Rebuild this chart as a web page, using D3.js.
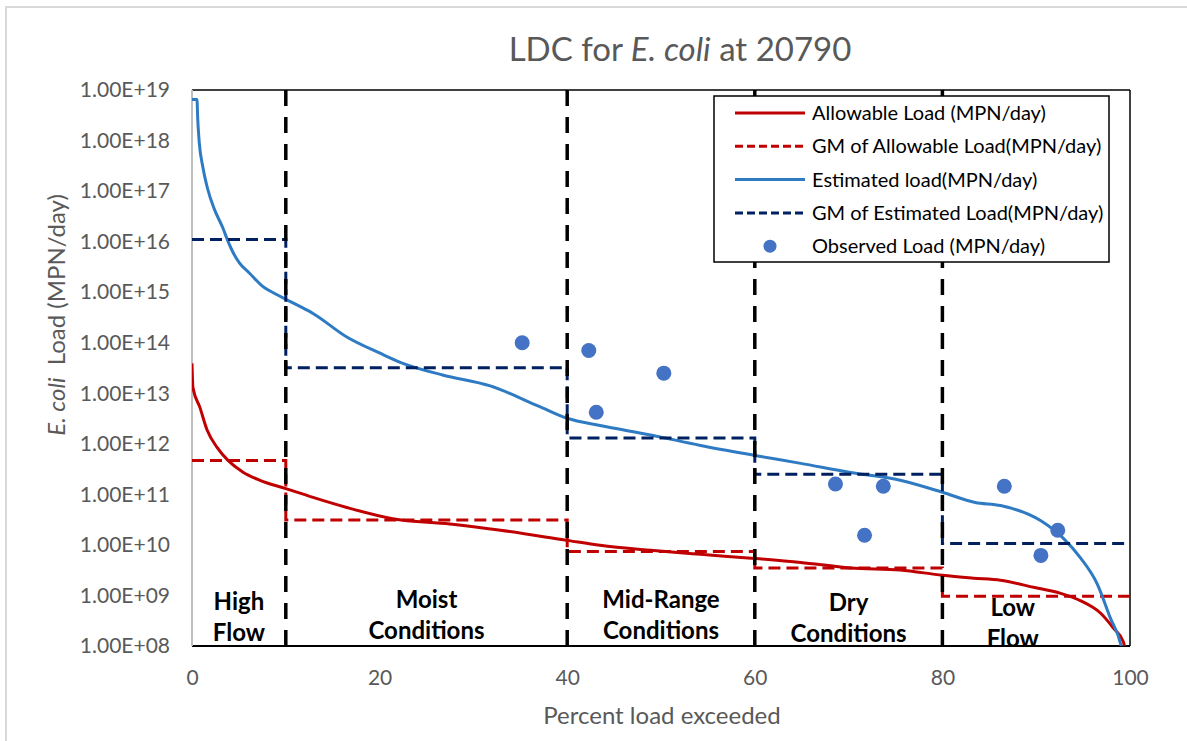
<!DOCTYPE html>
<html>
<head>
<meta charset="utf-8">
<script src="https://cdn.jsdelivr.net/npm/d3@7"></script>
<style>
  body { margin: 0; background: #fff; }
  svg { display: block; font-family: Lato, "Open Sans", sans-serif; }
</style>
</head>
<body>
<div id="chart"></div>
<script>
// 資料：流量百分位 (percent load exceeded) 與負荷值
const estPct  = [0, 0.53, 0.61, 0.78, 1.14, 1.67, 2.38, 3.27, 3.81, 4.34, 5.05, 6.11, 7.54, 8.96, 10.03, 11.45, 12.9, 16.5, 20.05, 22.2, 26.7, 31.8, 37, 40, 43.5, 48.9, 54.2, 60, 64.9, 70.2, 75.5, 80, 83.5, 86.2, 90.5, 92.9, 94.7, 96.5, 97.9, 99.0, 99.3];
const estLoad = [6.5e18, 6.5e18, 2.7e18, 8.9e17, 3.1e17, 1.1e17, 4.4e16, 1.9e16, 1.05e16, 6.3e15, 3.8e15, 2.4e15, 1.3e15, 9.1e14, 7.2e14, 5.3e14, 3.8e14, 1.3e14, 6.2e13, 4.1e13, 2.3e13, 1.4e13, 5.5e12, 3.2e12, 2.3e12, 1.5e12, 9.3e11, 5.9e11, 4.1e11, 2.7e11, 1.9e11, 1.1e11, 6.9e10, 6.0e10, 3.0e10, 1.35e10, 5.6e9, 1.7e9, 3.6e8, 1.1e8, 6e7];

const allowPct  = [0, 0.1, 0.85, 1.6, 2.67, 3.84, 5.44, 7.25, 10, 12.9, 16.5, 21.4, 27.5, 32.9, 40, 43.5, 48.9, 54.2, 60, 64.9, 70.2, 75.5, 80, 83.3, 86.2, 89.7, 92.6, 94.7, 96.9, 98.2, 99.3, 99.6];
const allowLoad = [3.9e13, 1.3e13, 5.2e12, 1.9e12, 8.5e11, 4.7e11, 2.75e11, 1.9e11, 1.3e11, 8.7e10, 5.5e10, 3.3e10, 2.6e10, 1.95e10, 1.23e10, 9.8e9, 7.8e9, 6.5e9, 5.4e9, 4.5e9, 3.5e9, 3.2e9, 2.5e9, 2.2e9, 2.0e9, 1.45e9, 1.1e9, 7.9e8, 4.4e8, 2.3e8, 1.2e8, 6e7];

// 流況分區邊界與幾何平均 (step)
const zoneEdges = [0, 10, 40, 60, 80, 100];
const gmAllow   = [4.7e11, 3.1e10, 7.4e9, 3.5e9, 9.6e8, 9.6e8];
const gmEst     = [1.1e16, 3.2e13, 1.3e12, 2.5e11, 1.07e10, 1.07e10];
const boundaries = [10, 40, 60, 80];

const obsPct  = [35.2, 42.3, 43.1, 50.3, 68.6, 71.7, 73.7, 86.6, 90.5, 92.3];
const obsLoad = [1.0e14, 7.0e13, 4.2e12, 2.5e13, 1.6e11, 1.55e10, 1.45e11, 1.45e11, 6.2e9, 1.95e10];

const zoneLabels = [
  { pct: 5,  lines: ['High', 'Flow'], y: 610 },
  { pct: 25, lines: ['Moist', 'Conditions'], y: 608 },
  { pct: 50, lines: ['Mid-Range', 'Conditions'], y: 608 },
  { pct: 70, lines: ['Dry', 'Conditions'], y: 611 },
  { pct: 87.5, lines: ['Low', 'Flow'], y: 616 }
];

const xTicks = [0, 20, 40, 60, 80, 100];
const yTicks = [1e8, 1e9, 1e10, 1e11, 1e12, 1e13, 1e14, 1e15, 1e16, 1e17, 1e18, 1e19];

const legendItems = [
  { label: 'Allowable Load (MPN/day)', color: '#C00000', dash: null },
  { label: 'GM of Allowable Load(MPN/day)', color: '#C00000', dash: '8,4' },
  { label: 'Estimated load(MPN/day)', color: '#2E7BC4', dash: null },
  { label: 'GM of Estimated Load(MPN/day)', color: '#002060', dash: '8,4' },
  { label: 'Observed Load (MPN/day)', color: '#4472C4', dot: true }
];

const width = 1187, height = 741;
const margin = { left: 192, right: 57, top: 90, bottom: 95 };
const innerW = width - margin.left - margin.right;
const innerH = height - margin.top - margin.bottom;

const svg = d3.select('#chart').append('svg')
  .attr('width', width)
  .attr('height', height);

// 外框
svg.append('rect')
  .attr('x', 6).attr('y', 7)
  .attr('width', 1300).attr('height', 900)
  .attr('fill', '#fff')
  .attr('stroke', '#d9d9d9')
  .attr('stroke-width', 2);

const x = d3.scaleLinear().domain([0, 100]).range([0, innerW]);
const y = d3.scaleLog().domain([1e8, 1e19]).range([innerH, 0]);

const g = svg.append('g').attr('transform', `translate(${margin.left},${margin.top})`);

g.append('defs').append('clipPath').attr('id', 'plot')
  .append('rect').attr('width', innerW).attr('height', innerH);

// 座標軸
const xAxis = d3.axisBottom(x).tickValues(xTicks).tickSize(0).tickPadding(32);
const yAxis = d3.axisLeft(y).tickValues(yTicks).tickSize(0).tickPadding(22)
  .tickFormat(d => '1.00E+' + String(Math.round(Math.log10(d))).padStart(2, '0'));

const xAxisG = g.append('g').attr('transform', `translate(0,${innerH})`).call(xAxis);
const yAxisG = g.append('g').call(yAxis);
[xAxisG, yAxisG].forEach(a => {
  a.selectAll('text').attr('fill', '#595959').style('font-size', '21px').style('font-family', 'Lato');
  a.select('.domain').remove();
});
xAxisG.selectAll('text').attr('dy', '0.35em');

// 圖框
g.append('line').attr('x1', 0).attr('x2', innerW).attr('y1', 0).attr('y2', 0).attr('stroke', '#000').attr('stroke-width', 1.5);
g.append('line').attr('x1', innerW).attr('x2', innerW).attr('y1', 0).attr('y2', innerH).attr('stroke', '#000').attr('stroke-width', 1.5);
g.append('line').attr('x1', 0).attr('x2', innerW).attr('y1', innerH).attr('y2', innerH).attr('stroke', '#000').attr('stroke-width', 2);
g.append('line').attr('x1', 0).attr('x2', 0).attr('y1', 0).attr('y2', innerH).attr('stroke', '#bfbfbf').attr('stroke-width', 2);

const plot = g.append('g').attr('clip-path', 'url(#plot)');

// 分區標籤
zoneLabels.forEach(z => {
  const t = plot.append('text')
    .attr('y', z.y - margin.top)
    .attr('text-anchor', 'middle')
    .style('font-size', '24px')
    .style('font-weight', 'bold')
    .attr('fill', '#000');
  z.lines.forEach((l, i) => t.append('tspan').attr('x', x(z.pct)).attr('dy', i === 0 ? 0 : 31).text(l));
});

const line = d3.line().x(d => x(d[0])).y(d => y(d[1])).curve(d3.curveMonotoneX);
const stepLine = d3.line().x(d => x(d[0])).y(d => y(d[1])).curve(d3.curveStepAfter);

plot.append('path')
  .datum(d3.zip(allowPct, allowLoad))
  .attr('d', line)
  .attr('fill', 'none').attr('stroke', '#C00000').attr('stroke-width', 3);

plot.append('path')
  .datum(d3.zip(zoneEdges, gmAllow))
  .attr('d', stepLine)
  .attr('fill', 'none').attr('stroke', '#C00000').attr('stroke-width', 3)
  .attr('stroke-dasharray', '12,6');

plot.append('path')
  .datum(d3.zip(estPct, estLoad))
  .attr('d', line)
  .attr('fill', 'none').attr('stroke', '#2E7BC4').attr('stroke-width', 3);

plot.append('path')
  .datum(d3.zip(zoneEdges, gmEst))
  .attr('d', stepLine)
  .attr('fill', 'none').attr('stroke', '#002060').attr('stroke-width', 3)
  .attr('stroke-dasharray', '12,6');

plot.selectAll('.obs')
  .data(d3.zip(obsPct, obsLoad))
  .join('circle')
  .attr('class', 'obs')
  .attr('cx', d => x(d[0]))
  .attr('cy', d => y(d[1]))
  .attr('r', 7.5)
  .attr('fill', '#4472C4');

// 分區邊界
g.selectAll('.boundary')
  .data(boundaries)
  .join('line')
  .attr('class', 'boundary')
  .attr('x1', d => x(d)).attr('x2', d => x(d))
  .attr('y1', 0).attr('y2', innerH)
  .attr('stroke', '#000').attr('stroke-width', 3.5)
  .attr('stroke-dasharray', '16,11');

// 圖例
const lg = svg.append('g').attr('transform', 'translate(714,96)');
lg.append('rect').attr('width', 395).attr('height', 166)
  .attr('fill', '#fff').attr('stroke', '#000').attr('stroke-width', 1.5);
legendItems.forEach((it, i) => {
  const row = lg.append('g').attr('transform', `translate(0,${17 + i * 33.3})`);
  if (it.dot) {
    row.append('circle').attr('cx', 56).attr('cy', 0).attr('r', 6.5).attr('fill', it.color);
  } else {
    row.append('line').attr('x1', 21).attr('x2', 91).attr('y1', 0).attr('y2', 0)
      .attr('stroke', it.color).attr('stroke-width', 3)
      .attr('stroke-dasharray', it.dash);
  }
  row.append('text').attr('x', 98).attr('y', 0).attr('dy', '0.35em')
    .style('font-size', '20px').attr('fill', '#000').text(it.label);
});

// 標題與軸標籤
const title = svg.append('text')
  .attr('x', 680).attr('y', 61)
  .attr('text-anchor', 'middle')
  .style('font-size', '33px').attr('fill', '#595959');
title.append('tspan').text('LDC for ');
title.append('tspan').style('font-style', 'italic').text('E. coli');
title.append('tspan').text(' at 20790');

svg.append('text')
  .attr('x', 662).attr('y', 716).attr('dy', '0.35em')
  .attr('text-anchor', 'middle')
  .style('font-size', '24px').attr('fill', '#595959')
  .text('Percent load exceeded');

const yl = svg.append('text')
  .attr('transform', 'translate(57,315) rotate(-90)')
  .attr('text-anchor', 'middle').attr('dy', '0.35em')
  .style('font-size', '24px').attr('fill', '#595959');
yl.append('tspan').style('font-style', 'italic').text('E. coli');
yl.append('tspan').text('\u00a0 Load (MPN/day)');
</script>
</body>
</html>
